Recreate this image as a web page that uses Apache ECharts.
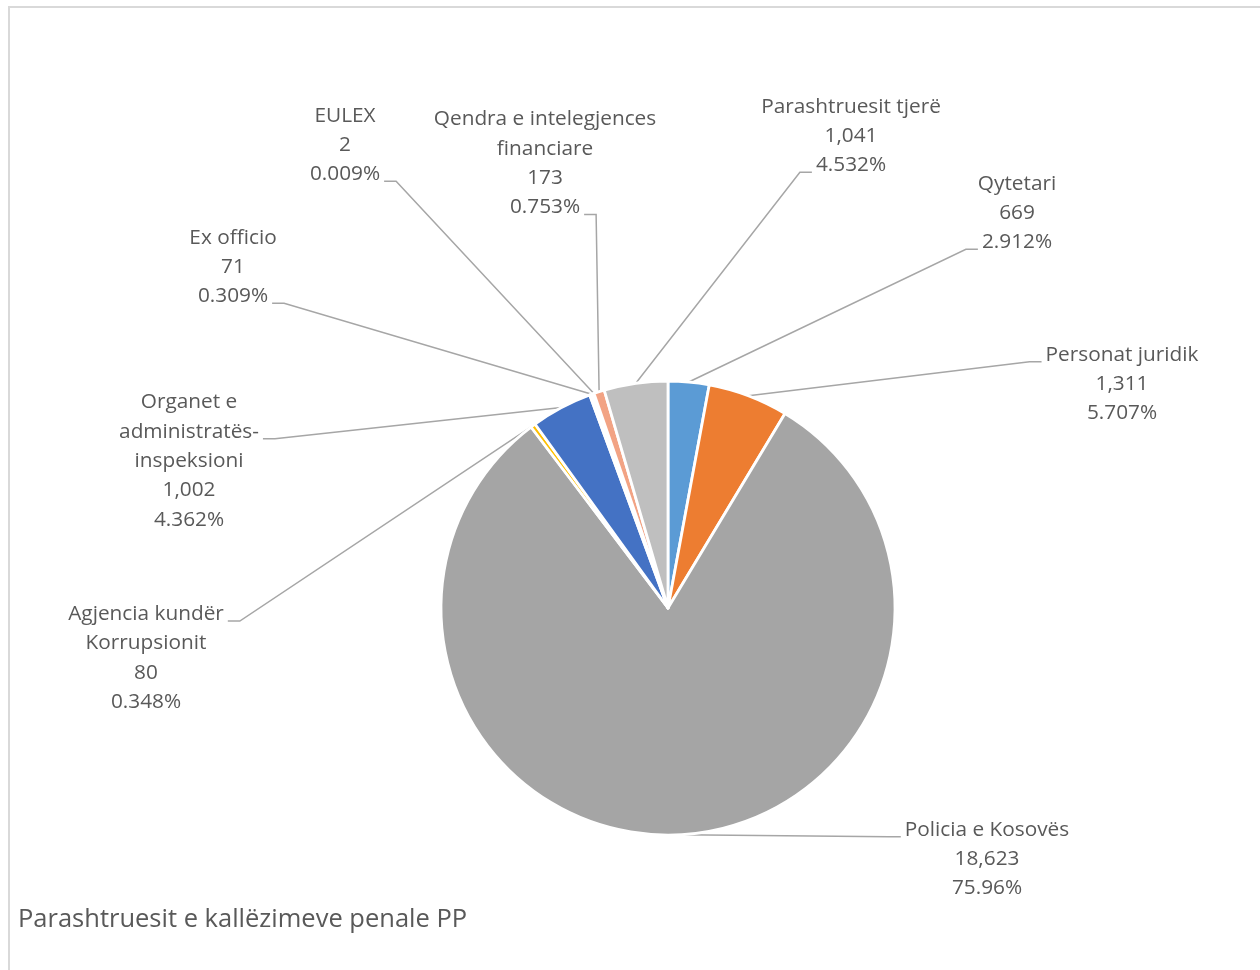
<!DOCTYPE html>
<html>
<head>
<meta charset="utf-8">
<script src="https://cdn.jsdelivr.net/npm/echarts@6/dist/echarts.min.js"></script>
<style>
  html, body { margin: 0; padding: 0; background: #ffffff; }
  #frame { position: absolute; left: 8px; top: 6px; width: 1270px; height: 980px;
           border-left: 2px solid #d9d9d9; border-top: 2px solid #d9d9d9; }
  #chart { position: absolute; left: 0; top: 0; width: 1260px; height: 970px; }
</style>
</head>
<body>
<div id="frame"></div>
<div id="chart"></div>
<script>
// ---- data ----
var categories = ['Qytetari', 'Personat juridik', 'Policia e Kosovës', 'Agjencia kundër Korrupsionit',
  'Organet e administratës-inspeksioni', 'Ex officio', 'EULEX',
  'Qendra e intelegjences financiare', 'Parashtruesit tjerë'];
var categoryLabelLines = ['Qytetari', 'Personat juridik', 'Policia e Kosovës', 'Agjencia kundër\nKorrupsionit',
  'Organet e\nadministratës-\ninspeksioni', 'Ex officio', 'EULEX',
  'Qendra e intelegjences\nfinanciare', 'Parashtruesit tjerë'];
var values = [669, 1311, 18623, 80, 1002, 71, 2, 173, 1041];
var percentLabels = ['2.912%', '5.707%', '75.96%', '0.348%', '4.362%', '0.309%', '0.009%', '0.753%', '4.532%'];
var titleText = 'Parashtruesit e kallëzimeve penale PP';

// ---- styles / layout ----
var sliceColors = ['#5B9BD5', '#ED7D31', '#A5A5A5', '#FFC000', '#4472C4', '#FFFFFF', '#264478', '#F2A384', '#BFBFBF'];
// label centre x, centre y, index of text line the leader attaches to (-1 = last)
var labelPlacement = [
  [1017, 213, -1], [1122, 384, 0], [987, 859, 0], [146, 658, 0], [189, 461, 1],
  [233, 267, -1], [345, 145, -1], [545, 163.5, -1], [851, 136, -1]
];
var FONT_SIZE = 20.8, LINE_H = 29.3, FONT_FAMILY = '"Open Sans"';
var TEXT_COLOR = '#595959';

var measureCtx = document.createElement('canvas').getContext('2d');
measureCtx.font = FONT_SIZE + 'px ' + FONT_FAMILY;

function fmt(v) { return v.toLocaleString('en-US'); }
function labelLines(i) {
  return (categoryLabelLines[i] + '\n' + fmt(values[i]) + '\n' + percentLabels[i]).split('\n');
}

var chart = echarts.init(document.getElementById('chart'), null, { renderer: 'canvas' });
var option = {
  animation: false,
  title: {
    text: titleText,
    left: 13, top: 902,
    textStyle: { fontFamily: FONT_FAMILY, fontSize: 25.5, fontWeight: 'normal', color: TEXT_COLOR }
  },
  series: [{
    type: 'pie',
    center: [668, 608],
    radius: 227,
    startAngle: 90,
    clockwise: true,
    avoidLabelOverlap: false,
    data: categories.map(function (c, i) { return { name: c, value: values[i] }; }),
    itemStyle: {
      color: function (p) { return sliceColors[p.dataIndex]; },
      borderColor: '#ffffff', borderWidth: 2.8
    },
    label: {
      show: true, position: 'outside', alignTo: 'none',
      formatter: function (p) { return labelLines(p.dataIndex).join('\n'); },
      fontFamily: FONT_FAMILY, fontSize: FONT_SIZE, lineHeight: LINE_H,
      color: TEXT_COLOR, align: 'center'
    },
    labelLine: {
      show: true, length: 20, length2: 12, smooth: false,
      lineStyle: { color: '#A6A6A6', width: 1.5 }
    },
    labelLayout: function (p) {
      var i = p.dataIndex;
      var L = labelPlacement[i];
      var lines = labelLines(i);
      var n = lines.length;
      var k = L[2] < 0 ? n - 1 : L[2];
      var lw = measureCtx.measureText(lines[k]).width;
      var start = p.labelLinePoints ? p.labelLinePoints[0] : null;
      var res = { x: L[0], y: L[1], align: 'center', verticalAlign: 'middle' };
      if (start) {
        var onRight = L[0] > start[0];
        var ey = L[1] + (k - (n - 1) / 2) * LINE_H + 7;
        var ex = onRight ? L[0] - lw / 2 - 4 : L[0] + lw / 2 + 4;
        var bx = onRight ? ex - 12 : ex + 12;
        res.labelLinePoints = [[start[0], start[1]], [bx, ey], [ex, ey]];
      }
      return res;
    }
  }]
};
chart.setOption(option);
</script>
</body>
</html>
